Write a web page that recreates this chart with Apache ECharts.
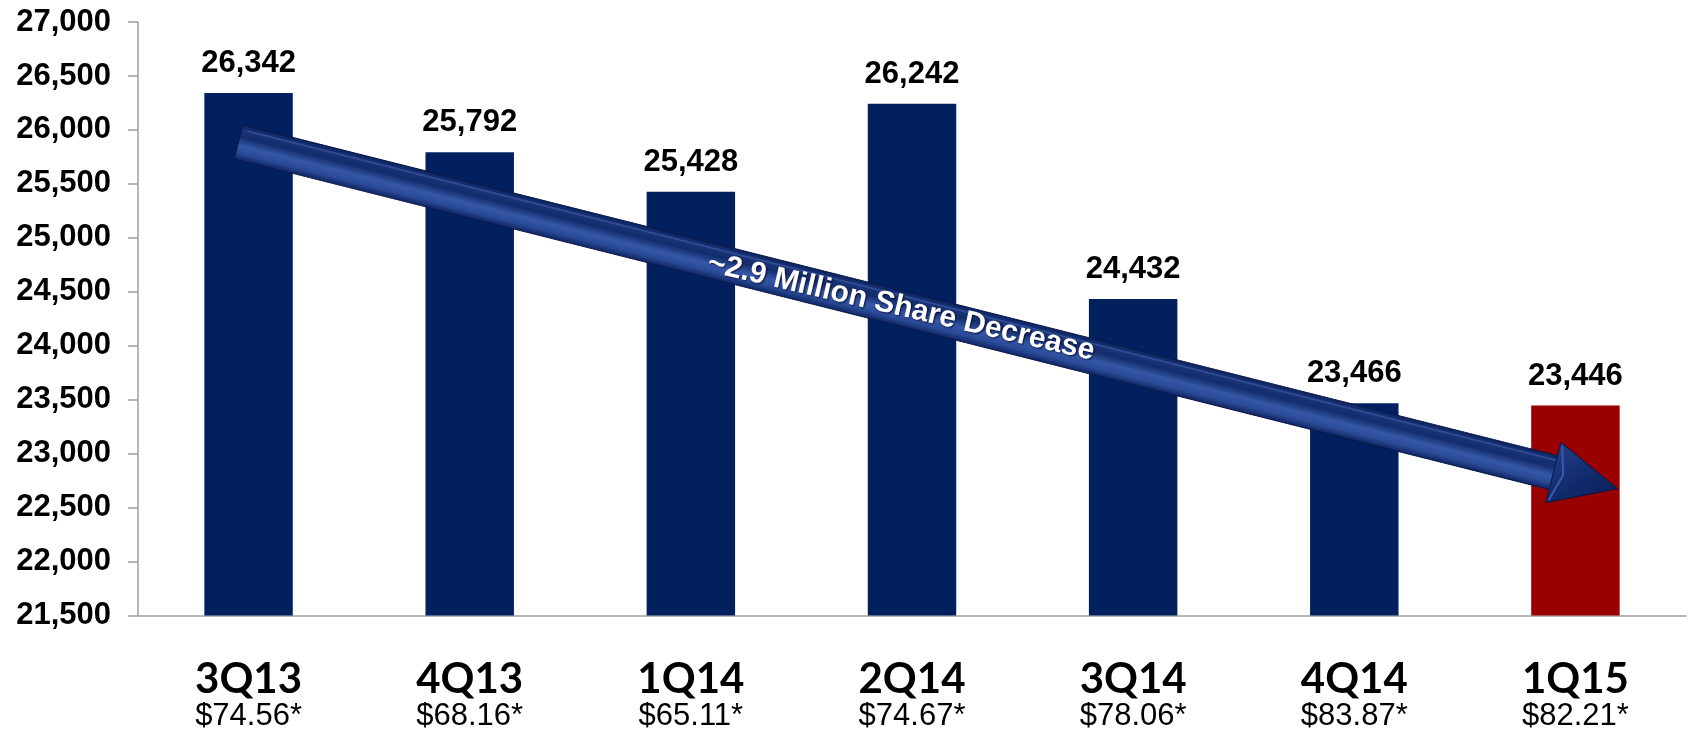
<!DOCTYPE html>
<html>
<head>
<meta charset="utf-8">
<script src="https://cdn.jsdelivr.net/npm/echarts@6/dist/echarts.min.js"></script>
<style>
html,body{margin:0;padding:0;background:#fff;}
#chart{width:1690px;height:732px;}
</style>
</head>
<body>
<div id="chart"></div>
<script>
const categories = ['3Q13','4Q13','1Q14','2Q14','3Q14','4Q14','1Q15'];
const prices = ['$74.56*','$68.16*','$65.11*','$74.67*','$78.06*','$83.87*','$82.21*'];
const shares = [26342, 25792, 25428, 26242, 24432, 23466, 23446];
const yTicks = {min: 21500, max: 27000, interval: 500};
const arrowText = '~2.9 Million Share Decrease';
// annotation arrow anchored in data space
const arrowStart = {cat: 0, value: 25890, dx: -10};
const arrowEnd = {cat: 6, value: 22676, dx: 42};

const navy = '#03205E';
const red = '#990000';

const chart = echarts.init(document.getElementById('chart'), null, {renderer: 'canvas'});
const fmt = v => Number(v).toLocaleString('en-US');

chart.setOption({
  animation: false,
  grid: {left: 138, right: 4, top: 22, bottom: 116, containLabel: false},
  xAxis: {
    type: 'category',
    data: categories,
    axisLine: {lineStyle: {color: '#A0A0A0', width: 1.5}},
    axisTick: {length: 14, lineStyle: {color: '#A0A0A0', width: 1.5}},
    axisLabel: {
      margin: 42,
      interval: 0,
      formatter: (v, i) => '{a|' + v + '}\n{b|' + prices[i] + '}',
      rich: {
        a: {fontFamily: 'Lato', fontWeight: 'bold', fontSize: 42, lineHeight: 44, color: '#000'},
        b: {fontFamily: 'Liberation Sans, Arial', fontSize: 31, lineHeight: 30, color: '#000'}
      }
    }
  },
  yAxis: {
    type: 'value',
    min: yTicks.min, max: yTicks.max, interval: yTicks.interval,
    splitLine: {show: false},
    axisLine: {show: true, lineStyle: {color: '#A0A0A0', width: 1.5}},
    axisTick: {show: true, length: 10, lineStyle: {color: '#A0A0A0', width: 1.5}},
    axisLabel: {
      margin: 27,
      formatter: fmt,
      fontFamily: 'Liberation Sans, Arial', fontWeight: 'bold', fontSize: 31, color: '#000'
    }
  },
  series: [{
    type: 'bar',
    barWidth: '40%',
    data: shares.map((v, i) => ({value: v, itemStyle: {color: i === shares.length - 1 ? red : navy}})),
    label: {
      show: true, position: 'top', distance: 14,
      formatter: p => fmt(p.value),
      fontFamily: 'Liberation Sans, Arial', fontWeight: 'bold', fontSize: 31, color: '#000'
    }
  }]
});

function drawArrow() {
  const p0 = chart.convertToPixel({gridIndex: 0}, [arrowStart.cat, arrowStart.value]);
  const p1 = chart.convertToPixel({gridIndex: 0}, [arrowEnd.cat, arrowEnd.value]);
  const x0 = p0[0] + arrowStart.dx, y0 = p0[1];
  const x1 = p1[0] + arrowEnd.dx, y1 = p1[1];
  const L = Math.hypot(x1 - x0, y1 - y0);
  const ang = Math.atan2(y1 - y0, x1 - x0);
  const headLen = 66, headHalf = 31, shaftHalf = 17.5;
  const shaftGrad = new echarts.graphic.LinearGradient(0, 0, 0, 1, [
    {offset: 0, color: '#0A1E5A'},
    {offset: 0.15, color: '#1B3578'},
    {offset: 0.35, color: '#142C6C'},
    {offset: 0.6, color: '#3457A6'},
    {offset: 0.8, color: '#2A4A96'},
    {offset: 1, color: '#0E2260'}
  ]);
  const headGrad = new echarts.graphic.LinearGradient(0, 0, 1, 1, [
    {offset: 0, color: '#243F88'},
    {offset: 0.5, color: '#11296A'},
    {offset: 1, color: '#0A1C55'}
  ]);
  chart.setOption({
    graphic: [{
      type: 'group',
      x: x0, y: y0,
      rotation: -ang,
      z: 100,
      children: [
        {
          type: 'rect', z: 100,
          shape: {x: 0, y: -shaftHalf, width: L - headLen + 4, height: shaftHalf * 2},
          style: {fill: shaftGrad, stroke: '#0A1A48', lineWidth: 1}
        },
        {
          type: 'polyline', z: 101,
          shape: {points: [[6, -shaftHalf + 5], [L - headLen, -shaftHalf + 5]]},
          style: {stroke: 'rgba(90,120,200,0.35)', lineWidth: 2}
        },
        {
          type: 'polygon', z: 101,
          shape: {points: [[L - headLen, -headHalf], [L, 0], [L - headLen, headHalf]]},
          style: {fill: headGrad, stroke: '#0A1A48', lineWidth: 1}
        },
        {
          type: 'polyline', z: 102,
          shape: {points: [[L - headLen + 2, -headHalf + 3], [L - headLen + 10, 0], [L - headLen + 2, headHalf - 3]]},
          style: {stroke: '#3A5AAA', lineWidth: 2, fill: null}
        },
        {
          type: 'text', z: 103,
          x: 683, y: -1,
          rotation: 0.02,
          style: {
            text: arrowText,
            fill: '#FFFFFF',
            font: 'bold 30px "Liberation Sans", Arial, sans-serif',
            align: 'center', verticalAlign: 'middle',
            textShadowColor: 'rgba(0,0,30,0.8)', textShadowBlur: 2, textShadowOffsetX: 1, textShadowOffsetY: 1
          }
        }
      ]
    }]
  });
}
drawArrow();
</script>
</body>
</html>
